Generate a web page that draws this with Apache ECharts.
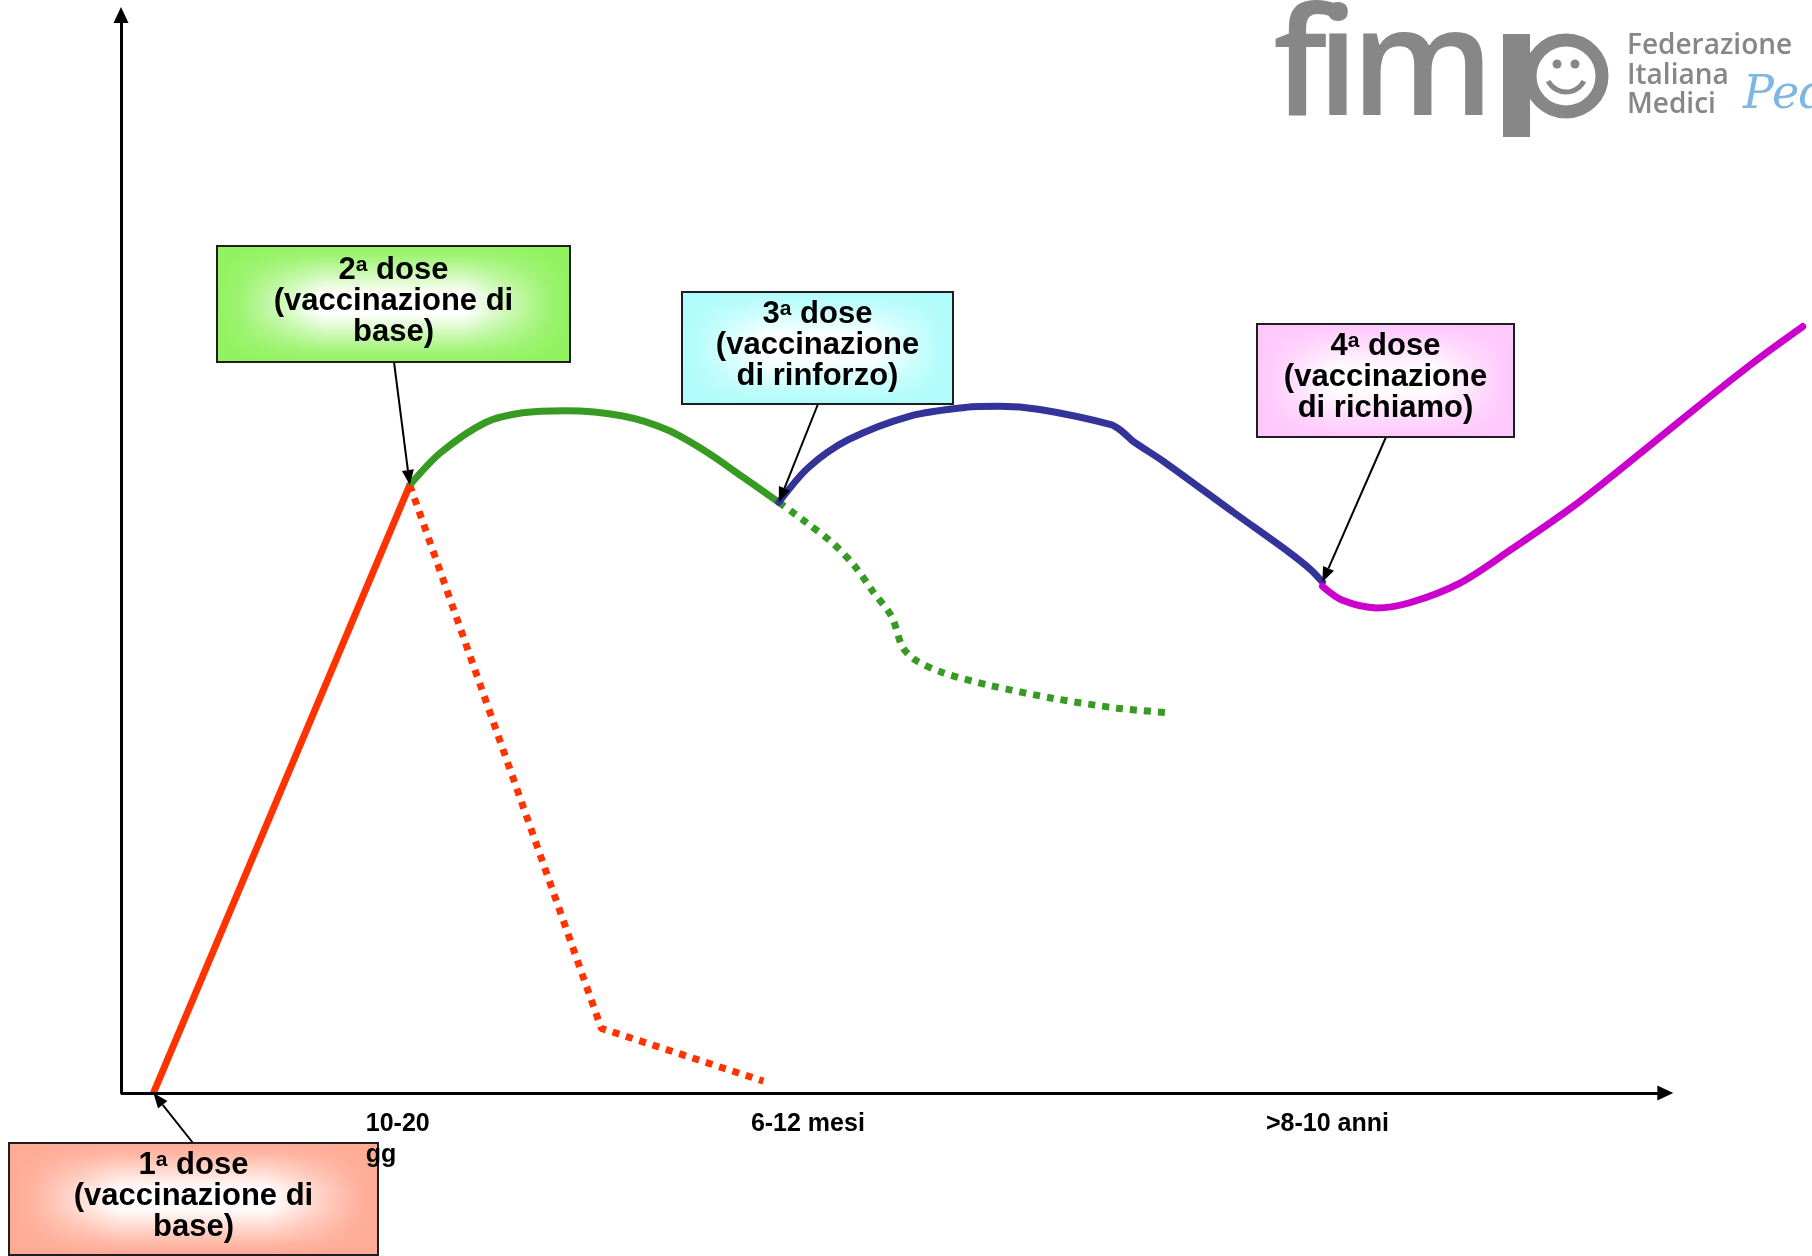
<!DOCTYPE html>
<html>
<head>
<meta charset="utf-8">
<script src="https://cdn.jsdelivr.net/npm/echarts@6/dist/echarts.min.js"></script>
<style>
  html, body { margin: 0; padding: 0; background: #ffffff; }
  #main { width: 1812px; height: 1256px; }
</style>
</head>
<body>
<div id="main"></div>
<script>
// Antibody level over time after each vaccine dose.
// x: time (arbitrary scale), y: antibody level (arbitrary scale)
const primingRise   = [[2.1, 0], [18.7, 56.4]];
const primingDecay  = [[18.7, 56.4], [31.1, 6.0], [41.6, 1.1]];
const secondDose    = [[18.7, 56.4], [20.7, 59.4], [23.6, 62.2], [26.0, 63.1], [28.8, 63.3],
                       [32.5, 62.8], [35.4, 61.5], [38.0, 59.4], [40.3, 57.1], [42.6, 54.8]];
const secondDecay   = [[42.6, 54.8], [44.4, 52.9], [46.1, 51.0], [47.5, 48.9], [48.7, 46.5],
                       [49.9, 44.2], [50.6, 41.4], [51.4, 40.2], [53.2, 39.0], [56.3, 37.8],
                       [60.4, 36.6], [64.5, 35.7], [67.6, 35.3]];
const boosterDose   = [[42.6, 54.8], [44.5, 58.0], [47.1, 60.6], [51.1, 62.8], [54.7, 63.6],
                       [56.9, 63.7], [59.5, 63.4], [64.1, 62.0], [64.8, 61.4], [65.5, 60.5],
                       [67.5, 58.6], [72.1, 53.8], [75.6, 50.2], [77.0, 48.6], [77.8, 47.4]];
const recallDose    = [[77.8, 47.0], [79.1, 45.7], [81.3, 45.0], [83.5, 45.5], [86.7, 47.3],
                       [90.0, 50.4], [94.3, 54.7], [98.6, 59.6], [102.9, 64.6], [106.2, 68.3],
                       [108.9, 71.1]];

// Time axis: drawn from 0 to timeAxisEnd, plotting area continues to the right edge
const timeAxisEnd = 100;
const plotXMax    = 109.5;

// Dose time points (vertical guides) and their labels
const doseTimes   = [18.7, 42.6, 77.8];
const guideTops   = [56.4, 54.8, 56.1];
const tickLabels  = ['10-20\ngg', '6-12 mesi', '>8-10 anni'];

// Dose call-outs: ordinal, description lines, point the arrow targets
const doseOrdinals = ['1', '2', '3', '4'];
const doseText = [
  ['(vaccinazione di', 'base)'],
  ['(vaccinazione di', 'base)'],
  ['(vaccinazione', 'di rinforzo)'],
  ['(vaccinazione', 'di richiamo)']
];
const doseTargets = [[2.1, 0], [18.7, 56.4], [42.6, 54.8], [77.8, 47.4]];

const RED = '#ff3300', GREEN = '#379b23', BLUE = '#333399', MAGENTA = '#cc00cc';
const FONT = '"Liberation Sans", Arial, sans-serif';

const chart = echarts.init(document.getElementById('main'), null, { renderer: 'canvas' });

function curve(data, color, opts) {
  return Object.assign({
    type: 'line',
    data: data,
    symbol: 'none',
    showSymbol: false,
    clip: false,
    silent: true,
    z: 3,
    lineStyle: { color: color, width: 7, cap: 'round', join: 'round' }
  }, opts || {});
}

chart.setOption({
  animation: false,
  backgroundColor: '#ffffff',
  grid: { left: 121, right: 0, top: 15, bottom: 163 },
  xAxis: {
    type: 'value', min: 0, max: plotXMax,
    axisLine: { show: false },
    axisTick: { show: false },
    axisLabel: { show: false },
    splitLine: { show: false }
  },
  yAxis: {
    type: 'value', min: 0, max: 100,
    axisLine: {
      show: true,
      symbol: ['none', 'triangle'],
      symbolSize: [15, 16],
      lineStyle: { color: '#000', width: 3 }
    },
    axisTick: { show: false },
    axisLabel: { show: false },
    splitLine: { show: false }
  },
  series: [
    {
      // dotted guides at each dose time
      type: 'line',
      data: [],
      z: 1,
      silent: true,
      markLine: {
        silent: true,
        symbol: 'none',
        label: { show: false },
        lineStyle: { color: '#000', width: 1.2, type: [2, 3] },
        data: doseTimes.map((t, i) => [{ coord: [t, guideTops[i]] }, { coord: [t, -0.3] }])
      }
    },
    {
      // time axis with arrow head
      type: 'line',
      data: [],
      z: 4,
      silent: true,
      markLine: {
        silent: true,
        symbol: ['none', 'triangle'],
        symbolSize: [15, 16],
        label: { show: false },
        lineStyle: { color: '#000', width: 3, type: 'solid' },
        data: [[{ coord: [0, 0] }, { coord: [timeAxisEnd, 0] }]]
      }
    },
    curve(primingDecay, RED, { lineStyle: { color: RED, width: 7, type: [7, 7], cap: 'butt' } }),
    curve(secondDecay, GREEN, { smooth: 0.3, lineStyle: { color: GREEN, width: 7, type: [7, 7], cap: 'butt' } }),
    curve(secondDose, GREEN, { smooth: 0.3 }),
    curve(boosterDose, BLUE, { smooth: 0.3 }),
    curve(recallDose, MAGENTA, { smooth: 0.3 }),
    curve(primingRise, RED, { lineStyle: { color: RED, width: 7, cap: 'butt' } })
  ]
});

// ---- call-out boxes, arrows, tick labels, logo ----
const boxLayout = [
  { x: 9,    y: 1143, w: 369, h: 112, edge: [255, 170, 148], from: [193, 1143] },
  { x: 217,  y: 246,  w: 353, h: 116, edge: [146, 242, 96],  from: [394, 362] },
  { x: 682,  y: 292,  w: 271, h: 112, edge: [176, 252, 252], from: [818, 404] },
  { x: 1257, y: 324,  w: 257, h: 113, edge: [255, 200, 252], from: [1386, 437] }
];
const tickOffsets = [{ dx: -44, align: 'left' }, { dx: 29, align: 'center' }, { dx: 5, align: 'center' }];

function rgba(c, a) { return 'rgba(' + c[0] + ',' + c[1] + ',' + c[2] + ',' + a + ')'; }

const graphics = [];

boxLayout.forEach((b, i) => {
  const shape = { x: b.x, y: b.y, width: b.w, height: b.h };
  // white base + edge-to-centre fades horizontally and vertically
  graphics.push({ type: 'rect', z: 10, shape: shape, style: { fill: '#ffffff' } });
  graphics.push({
    type: 'rect', z: 10, shape: shape,
    style: {
      fill: {
        type: 'linear', x: 0, y: 0, x2: 1, y2: 0,
        colorStops: [
          { offset: 0, color: rgba(b.edge, 1) },
          { offset: 0.06, color: rgba(b.edge, 0.9) },
          { offset: 0.3, color: rgba(b.edge, 0) },
          { offset: 0.7, color: rgba(b.edge, 0) },
          { offset: 0.94, color: rgba(b.edge, 0.9) },
          { offset: 1, color: rgba(b.edge, 1) }
        ]
      }
    }
  });
  graphics.push({
    type: 'rect', z: 10, shape: shape,
    style: {
      fill: {
        type: 'linear', x: 0, y: 0, x2: 0, y2: 1,
        colorStops: [
          { offset: 0, color: rgba(b.edge, 1) },
          { offset: 0.1, color: rgba(b.edge, 0.85) },
          { offset: 0.42, color: rgba(b.edge, 0) },
          { offset: 0.58, color: rgba(b.edge, 0) },
          { offset: 0.9, color: rgba(b.edge, 0.85) },
          { offset: 1, color: rgba(b.edge, 1) }
        ]
      },
      stroke: '#1e1e1e',
      lineWidth: 2
    }
  });
  const lines = ['{n|' + doseOrdinals[i] + '}{s|a}{n| dose}'].concat(doseText[i].map(t => '{n|' + t + '}'));
  graphics.push({
    type: 'text',
    z: 11,
    x: b.x + b.w / 2,
    y: b.y + b.h / 2 - 3,
    style: {
      text: lines.join('\n'),
      align: 'center',
      verticalAlign: 'middle',
      fill: '#000',
      rich: {
        n: { fontFamily: FONT, fontWeight: 'bold', fontSize: 31, lineHeight: 31, fill: '#000' },
        s: { fontFamily: FONT, fontWeight: 'bold', fontSize: 21, verticalAlign: 'top', fill: '#000' }
      }
    }
  });

  // arrow from the box to the dose point on the curve
  const tip = chart.convertToPixel({ gridIndex: 0 }, doseTargets[i]);
  const sx = b.from[0], sy = b.from[1];
  const dx = tip[0] - sx, dy = tip[1] - sy;
  const len = Math.sqrt(dx * dx + dy * dy);
  const ux = dx / len, uy = dy / len;
  const headL = 15, headW = 6;
  const bx = tip[0] - ux * headL, by = tip[1] - uy * headL;
  graphics.push({
    type: 'line', z: 9,
    shape: { x1: sx, y1: sy, x2: bx, y2: by },
    style: { stroke: '#000', lineWidth: 2 }
  });
  graphics.push({
    type: 'polygon', z: 9,
    shape: { points: [[tip[0], tip[1]], [bx - uy * headW, by + ux * headW], [bx + uy * headW, by - ux * headW]] },
    style: { fill: '#000' }
  });
});

doseTimes.forEach((t, i) => {
  const p = chart.convertToPixel({ gridIndex: 0 }, [t, 0]);
  graphics.push({
    type: 'text', z: 20,
    x: p[0] + tickOffsets[i].dx,
    y: p[1] + 16,
    style: {
      text: tickLabels[i],
      align: tickOffsets[i].align,
      verticalAlign: 'top',
      font: 'bold 25px ' + FONT,
      lineHeight: 31,
      fill: '#000'
    }
  });
});

// logo: "fim" letters, a "p" built from a stem and a smiling ring, and the federation name
const LOGO = '#878787';
const LOGO_FONT = '600 150px "Open Sans"';
[['f', 1273], ['i', 1317], ['m', 1351]].forEach(([ch, x]) => {
  graphics.push({ type: 'text', z: 5, x: x, y: 72,
    style: { text: ch, font: LOGO_FONT, fill: LOGO, verticalAlign: 'middle' } });
});
graphics.push(
  { type: 'rect', z: 5, shape: { x: 1503, y: 34, width: 27, height: 103 }, style: { fill: LOGO } },
  { type: 'circle', z: 5, shape: { cx: 1566, cy: 76, r: 36 }, style: { fill: 'none', stroke: LOGO, lineWidth: 13 } },
  { type: 'circle', z: 5, shape: { cx: 1557, cy: 64, r: 4.5 }, style: { fill: LOGO } },
  { type: 'circle', z: 5, shape: { cx: 1575, cy: 64, r: 4.5 }, style: { fill: LOGO } },
  { type: 'arc', z: 5, shape: { cx: 1566, cy: 72, r: 20, startAngle: Math.PI * 0.15, endAngle: Math.PI * 0.85 },
    style: { fill: 'none', stroke: LOGO, lineWidth: 5 } },
  { type: 'text', z: 5, x: 1627, y: 46,
    style: { text: 'Federazione', font: '600 28px "Open Sans"', fill: LOGO, verticalAlign: 'middle' } },
  { type: 'text', z: 5, x: 1627, y: 76,
    style: { text: 'Italiana', font: '600 28px "Open Sans"', fill: LOGO, verticalAlign: 'middle' } },
  { type: 'text', z: 5, x: 1627, y: 105,
    style: { text: 'Medici', font: '600 28px "Open Sans"', fill: LOGO, verticalAlign: 'middle' } },
  { type: 'text', z: 5, x: 1743, y: 96,
    style: { text: 'Pediatri', font: 'italic 46px "DejaVu Serif"', fill: '#7db7e2', verticalAlign: 'middle' } }
);

chart.setOption({ graphic: { elements: graphics } });
</script>
</body>
</html>
